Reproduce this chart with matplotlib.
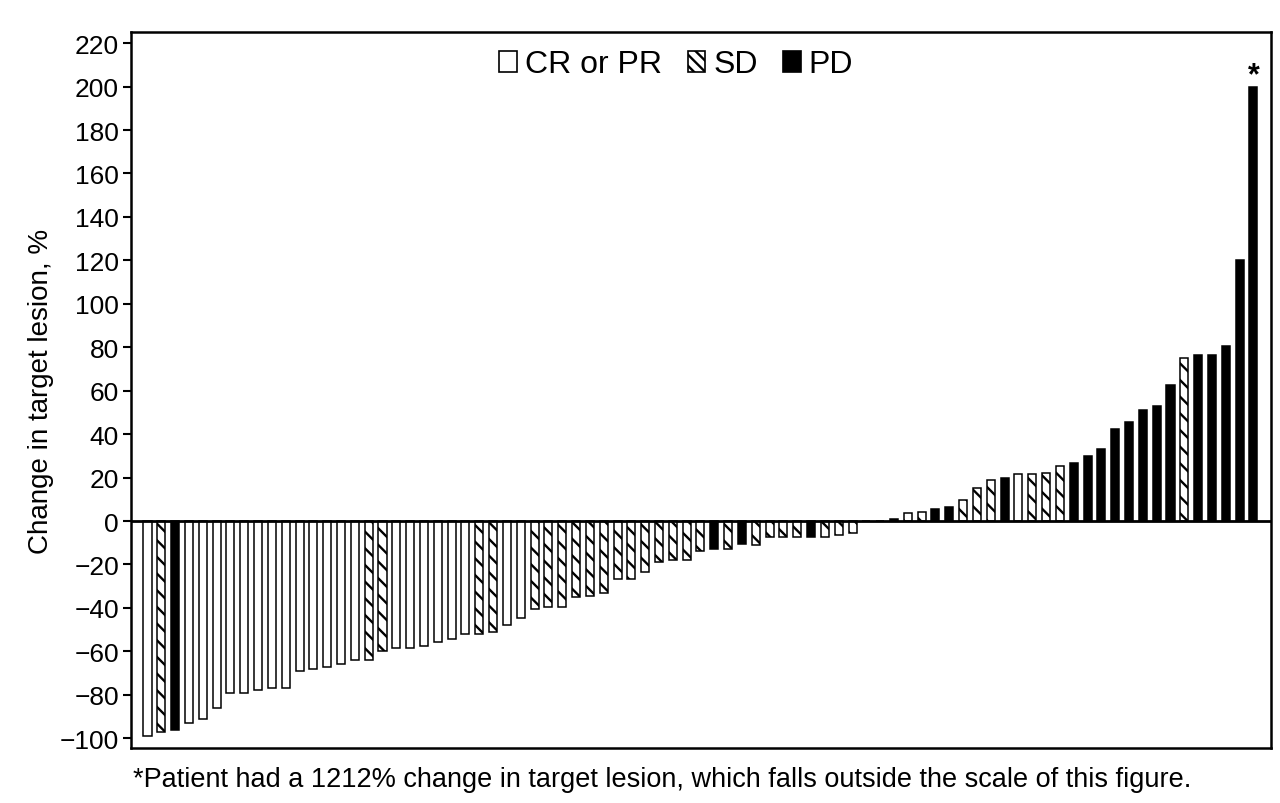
import matplotlib
matplotlib.use("Agg")
import matplotlib.pyplot as plt
from matplotlib import font_manager
from matplotlib.patches import Patch

# Valeurs (variation de la lésion cible, %)
values = [-99, -97, -96, -93, -91, -86, -79, -79, -78, -77,
          -77, -69, -68, -67, -66, -64, -64, -60, -58.5, -58.5,
          -57.5, -55.5, -54.5, -52, -52, -51, -48, -44.5, -40.5, -39.5,
          -39.5, -35, -34.5, -33, -26.5, -26.5, -23.5, -19, -18, -18,
          -14, -13, -13, -10.5, -11, -7.5, -7.5, -7.5, -7.5, -7.5,
          -6.5, -5.5, 0, 0, 1, 3.5, 4, 5.5, 6.5, 9.5,
          15, 19, 20, 21.5, 21.5, 22, 25.5, 26.5, 30, 33,
          42.5, 45.5, 51, 53, 62.5, 75, 76.5, 76.5, 80.5, 120,
          200]
# C = CR ou PR, S = SD, P = PD
response = ['C', 'S', 'P', 'C', 'C', 'C', 'C', 'C', 'C', 'C',
            'C', 'C', 'C', 'C', 'C', 'C', 'S', 'S', 'C', 'C',
            'C', 'C', 'C', 'C', 'S', 'S', 'C', 'C', 'S', 'S',
            'S', 'S', 'S', 'S', 'S', 'S', 'S', 'S', 'S', 'S',
            'S', 'P', 'S', 'P', 'S', 'S', 'S', 'S', 'P', 'S',
            'S', 'S', 'C', 'C', 'P', 'S', 'S', 'P', 'P', 'S',
            'S', 'S', 'P', 'C', 'S', 'S', 'S', 'P', 'P', 'P',
            'P', 'P', 'P', 'P', 'P', 'S', 'P', 'P', 'P', 'P',
            'P']
legend_labels = ["CR or PR", "SD", "PD"]

installed = {f.name for f in font_manager.fontManager.ttflist}
narrow = "Liberation Sans Narrow" if "Liberation Sans Narrow" in installed else "Liberation Sans"
plt.rcParams['font.family'] = ["Liberation Sans", "DejaVu Sans"]
plt.rcParams['hatch.linewidth'] = 1.7

styles = {
    'C': dict(color='white', hatch=None),
    'S': dict(color='white', hatch='\\\\'),
    'P': dict(color='black', hatch=None),
}

fig = plt.figure(figsize=(12.8, 8.04), dpi=100)
ax = fig.add_axes([0.1027, 0.0684, 0.8906, 0.8902])

for i, (v, r) in enumerate(zip(values, response)):
    st = styles[r]
    ax.bar(i, v, width=0.58, color=st['color'], hatch=st['hatch'],
           edgecolor='black', linewidth=1.1, zorder=2)

ax.axhline(0, color='black', linewidth=2, zorder=3)
ax.text(len(values) - 1, 205, "*", ha='center', va='center', fontsize=22, fontweight='bold')

ax.set_xlim(-1.16, 81.3)
ax.set_ylim(-104.5, 225)
ax.set_yticks(range(-100, 221, 20))
ax.set_xticks([])
ax.tick_params(axis='y', length=6, width=1.5, pad=3, labelsize=19)
for s in ax.spines.values():
    s.set_linewidth(1.8)

ax.set_ylabel("Change in target lesion, %", fontsize=20, family=narrow, labelpad=4)

handles = [Patch(facecolor='white', edgecolor='black', linewidth=1.2),
           Patch(facecolor='white', edgecolor='black', hatch='\\\\\\', linewidth=1.2),
           Patch(facecolor='black', edgecolor='black', linewidth=1.2)]
ax.legend(handles, legend_labels, ncol=3, loc='center', bbox_to_anchor=(0.478, 0.955),
          frameon=False, fontsize=23, handlelength=0.55, handleheight=0.65,
          handletextpad=0.25, columnspacing=0.8, borderpad=0)

fig.text(0.517, 0.03, "*Patient had a 1212% change in target lesion, which falls outside the scale of this figure.",
         ha='center', va='center', fontsize=19.5, family=narrow)

fig.savefig("out.png", dpi=100)
